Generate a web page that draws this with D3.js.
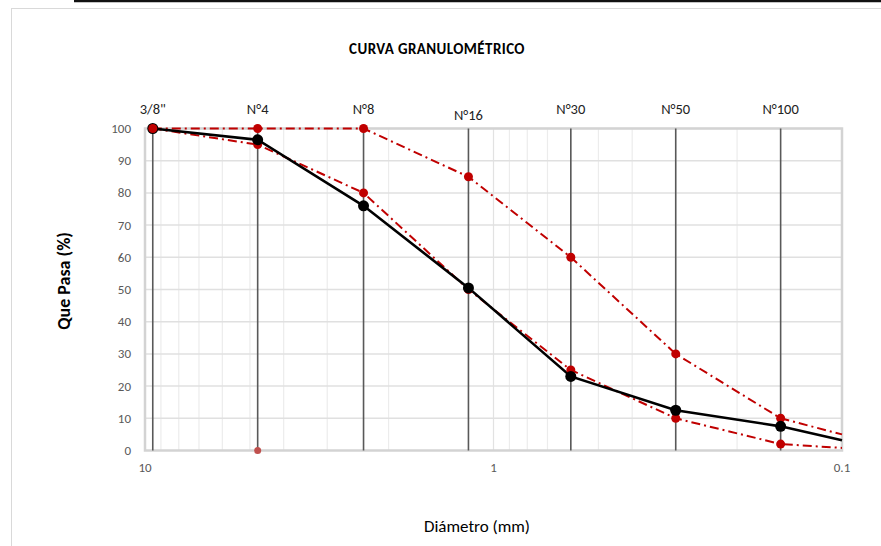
<!DOCTYPE html>
<html>
<head>
<meta charset="utf-8">
<script src="https://cdn.jsdelivr.net/npm/d3@7"></script>
<style>
  html, body { margin: 0; padding: 0; background: #fff; }
  svg { display: block; }
  text { font-family: Carlito, Calibri, Lato, "Open Sans", sans-serif; }
</style>
</head>
<body>
<script>
// Sieve openings (mm) and their names
const sieveNames = ['3/8"', "N°4", "N°8", "N°16", "N°30", "N°50", "N°100"];
const sieveSizes = [9.5, 4.75, 2.36, 1.18, 0.6, 0.3, 0.15];

// Diameter at the fine end of the curves
const endSize = 0.1;

// Sample gradation: % passing at each sieve, then at the fine end
const samplePassing = [100, 96.5, 76, 50.5, 23, 12.5, 7.5];
const sampleEnd = 3.2;

// Upper specification limit
const upperLimit = [100, 100, 100, 85, 60, 30, 10];
const upperEnd = 5;

// Lower specification limit
const lowerLimit = [100, 95, 80, 50, 25, 10, 2];
const lowerEnd = 0.8;

// Loose point plotted at the No.4 sieve
const loosePoint = { size: 4.75, passing: 0 };

// Axis ticks
const yTicks = [0, 10, 20, 30, 40, 50, 60, 70, 80, 90, 100];
const xTickLabels = [10, 1, 0.1];

const W = 881, H = 546;
const svg = d3.select("body").append("svg").attr("width", W).attr("height", H);

// outer chart frame
svg.append("rect").attr("x", 11.5).attr("y", 8.5).attr("width", W).attr("height", H)
  .attr("fill", "none").attr("stroke", "#d9d9d9").attr("stroke-width", 1);
svg.append("line").attr("x1", 74).attr("x2", W).attr("y1", 1).attr("y2", 1)
  .attr("stroke", "#111").attr("stroke-width", 2.5);

const x = d3.scaleLog().domain([10, 0.1]).range([145, 842]);
const y = d3.scaleLinear().domain([0, 100]).range([450.5, 128.5]);

// minor log gridlines
const minor = [];
[1, 0.1].forEach(dec => { for (let k = 2; k <= 9; k++) minor.push(k * dec); });
svg.append("g").selectAll("line").data(minor).join("line")
  .attr("x1", d => x(d)).attr("x2", d => x(d))
  .attr("y1", y(0)).attr("y2", y(100))
  .attr("stroke", "#ececec").attr("stroke-width", 1.2);
svg.append("line").attr("x1", x(1)).attr("x2", x(1)).attr("y1", y(0)).attr("y2", y(100))
  .attr("stroke", "#e2e2e2").attr("stroke-width", 1.2);

// horizontal gridlines
svg.append("g").selectAll("line").data(yTicks.slice(1)).join("line")
  .attr("x1", x(10)).attr("x2", x(0.1))
  .attr("y1", d => y(d)).attr("y2", d => y(d))
  .attr("stroke", "#e0e0e0").attr("stroke-width", 1.5);

// plot frame
svg.append("rect").attr("x", x(10)).attr("y", y(100))
  .attr("width", x(0.1) - x(10)).attr("height", y(0) - y(100))
  .attr("fill", "none").attr("stroke", "#d3d3d3").attr("stroke-width", 2.5);

// sieve lines
svg.append("g").selectAll("line").data(sieveSizes).join("line")
  .attr("x1", d => x(d)).attr("x2", d => x(d))
  .attr("y1", y(0)).attr("y2", y(100))
  .attr("stroke", "#595959").attr("stroke-width", 1.6);

// sieve names on top
svg.append("g").selectAll("text").data(sieveNames).join("text")
  .attr("x", (d, i) => x(sieveSizes[i]))
  .attr("y", (d, i) => d === "N°16" ? 120 : 114)
  .attr("text-anchor", "middle")
  .attr("font-size", 14.5).attr("fill", "#222")
  .text(d => d);

// y tick labels
svg.append("g").selectAll("text").data(yTicks).join("text")
  .attr("x", 131).attr("y", d => y(d) + 4.5)
  .attr("text-anchor", "end").attr("font-size", 13).attr("fill", "#595959")
  .text(d => d);

// x tick labels
svg.append("g").selectAll("text").data(xTickLabels).join("text")
  .attr("x", d => x(d)).attr("y", 472)
  .attr("text-anchor", "middle").attr("font-size", 13).attr("fill", "#595959")
  .text(d => d);

// titles
svg.append("text").attr("x", 437).attr("y", 54).attr("text-anchor", "middle")
  .attr("font-size", 15).attr("font-weight", "bold").attr("letter-spacing", 0.4)
  .attr("fill", "#000").text("CURVA GRANULOMÉTRICO");
svg.append("text").attr("transform", "translate(70,281) rotate(-90)")
  .attr("text-anchor", "middle").attr("font-size", 18).attr("font-weight", "bold")
  .attr("fill", "#000").text("Que Pasa (%)");
svg.append("text").attr("x", 477).attr("y", 532).attr("text-anchor", "middle")
  .attr("font-size", 17).attr("fill", "#000").text("Diámetro (mm)");

const line = d3.line().x(d => x(d[0])).y(d => y(d[1]));
const pts = vals => sieveSizes.map((s, i) => [s, vals[i]]);

// specification limits (dash-dot)
[[upperLimit, upperEnd], [lowerLimit, lowerEnd]].forEach(([vals, endV]) => {
  svg.append("path").datum(pts(vals).concat([[endSize, endV]]))
    .attr("d", line).attr("fill", "none")
    .attr("stroke", "#c00000").attr("stroke-width", 2)
    .attr("stroke-dasharray", "9,4,2,4");
});

// sample curve
svg.append("path").datum(pts(samplePassing).concat([[endSize, sampleEnd]]))
  .attr("d", line).attr("fill", "none")
  .attr("stroke", "#000").attr("stroke-width", 2.6);

// limit markers
[upperLimit, lowerLimit].forEach(vals => {
  svg.append("g").selectAll("circle").data(pts(vals)).join("circle")
    .attr("cx", d => x(d[0])).attr("cy", d => y(d[1])).attr("r", 4.5)
    .attr("fill", "#c00000");
});

// sample markers
svg.append("g").selectAll("circle").data(pts(samplePassing)).join("circle")
  .attr("cx", d => x(d[0])).attr("cy", d => y(d[1])).attr("r", 5.5)
  .attr("fill", "#000");

svg.append("circle").attr("cx", x(loosePoint.size)).attr("cy", y(loosePoint.passing))
  .attr("r", 3.5).attr("fill", "#c0504d");

// the 3/8" point is drawn red over the black one
svg.append("circle").attr("cx", x(sieveSizes[0])).attr("cy", y(upperLimit[0]))
  .attr("r", 4.5).attr("fill", "#c00000");
</script>
</body>
</html>
